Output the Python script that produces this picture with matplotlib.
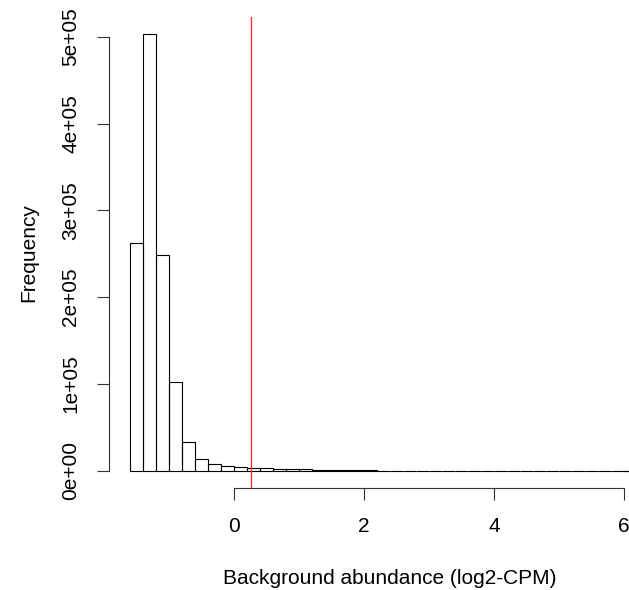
import numpy as np
import matplotlib
matplotlib.use("Agg")
import matplotlib.pyplot as plt

# histogram of background abundance, bins of width 0.2 starting at -1.6
bin_start = -1.6
bin_width = 0.2
counts = [263000, 503000, 249000, 102000, 33000, 13600, 7600, 5400, 4200, 3300,
          2500, 2100, 1700, 1400, 1100, 800, 550, 380, 250, 60,
          40, 30, 22, 16, 12, 9, 7, 5, 4, 3,
          3, 2, 2, 1, 1, 1, 1, 1, 1, 1]
threshold = 0.26
xticks = [0, 2, 4, 6]
yticks = [0, 100000, 200000, 300000, 400000, 500000]
ytick_labels = ["0e+00", "1e+05", "2e+05", "3e+05", "4e+05", "5e+05"]

plt.rcParams['font.family'] = ['Liberation Sans', 'DejaVu Sans']
plt.rcParams['font.size'] = 15

W, H = 629, 590
fig = plt.figure(figsize=(W / 100, H / 100), dpi=100)
# plot region in pixels (R style), right edge runs past the image
left, right, top, bottom = 109, 671, 17, 488
ax = fig.add_axes([left / W, (H - bottom) / H, (right - left) / W, (bottom - top) / H])

edges = bin_start + bin_width * np.arange(len(counts) + 1)
ax.bar(edges[:-1], counts, width=bin_width, align='edge', fill=False,
       edgecolor='black', linewidth=0.8)
ax.axvline(threshold, color='#ff3333', linewidth=1.0)

xr = edges[-1] - edges[0]
ax.set_xlim(edges[0] - 0.04 * xr, edges[-1] + 0.04 * xr)
ymax = max(counts)
ax.set_ylim(-0.04 * ymax, ymax * 1.04)

for s in ['top', 'right']:
    ax.spines[s].set_visible(False)
ax.spines['left'].set_bounds(yticks[0], yticks[-1])
ax.spines['bottom'].set_bounds(xticks[0], xticks[-1])
for s in ['left', 'bottom']:
    ax.spines[s].set_linewidth(0.8)
    ax.spines[s].set_color('#333333')

ax.set_xticks(xticks)
ax.set_xticklabels([str(v) for v in xticks])
ax.set_yticks(yticks)
ax.set_yticklabels(ytick_labels, rotation=90, va='center')
ax.tick_params(length=8.6, width=0.8, color='#333333')
ax.tick_params(axis='x', pad=12)
ax.tick_params(axis='y', pad=12)

ax.set_xlabel("Background abundance (log2-CPM)", labelpad=24)
ax.set_ylabel("Frequency", labelpad=17)

fig.savefig("out.png", dpi=100)
